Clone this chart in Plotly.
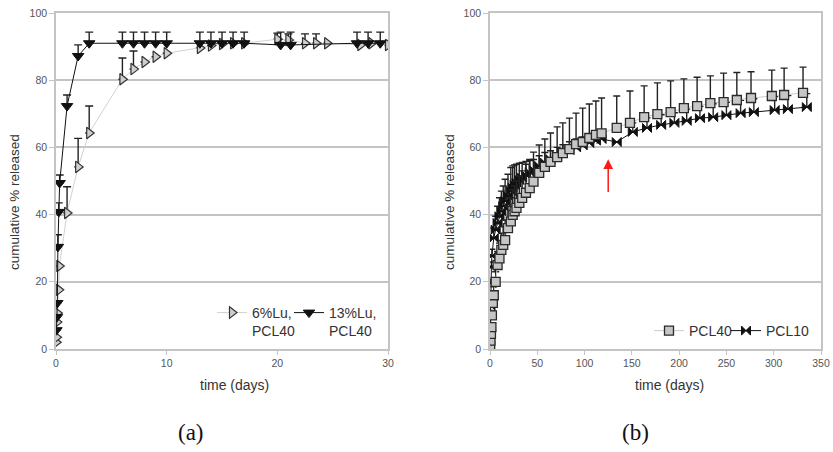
import plotly.graph_objects as go

# ---------- panel (a) ----------
t_a6 = [0.02, 0.05, 0.08, 0.12, 0.25, 0.3, 1, 2, 3, 6, 7, 8, 9, 10, 13, 14, 15, 16, 17, 20, 21, 22.5, 23.5, 24.5, 27.5, 28.5, 30]
v_a6 = [2, 3.5, 8, 10.7, 17.6, 24.7, 40.5, 54.2, 64.3, 80.3, 83.3, 85.4, 87, 88, 89.6, 90.3, 90.8, 91, 91, 92.2, 92, 91, 91, 91, 90.5, 91, 90.5]
e_a6 = [0, 0, 0, 0, 0, 0, 7.8, 8.5, 8, 6.3, 5.4, 0, 0, 0, 0, 0, 0, 0, 0, 1.8, 1.8, 2.8, 2.8, 0, 0, 0, 0]

t_a13 = [0.04, 0.08, 0.12, 0.17, 0.25, 0.33, 1, 2, 3, 6, 7, 8, 9, 10, 13, 14, 15, 16, 17, 20.3, 21.2, 27.2, 28.2, 29.3]
v_a13 = [5.6, 9.5, 13.7, 30.4, 40.8, 49.4, 72.3, 87.2, 91, 91, 91, 91, 91, 91, 91, 91, 91, 91, 91, 90.5, 90.5, 91, 91, 91]
e_a13 = [0, 0, 0, 3.6, 2.7, 2.4, 3.3, 3.3, 3.3, 3.3, 3.3, 3.3, 3.3, 3.3, 3.3, 3.3, 3.3, 3.3, 3.3, 3.8, 3.8, 3.3, 3.3, 3.3]

# ---------- panel (b) ----------
t_b40 = [0.2, 0.5, 1, 1.5, 2, 3, 4, 6, 8, 10, 12, 14, 16, 19, 22, 24, 26, 28, 31, 34, 38, 42, 46, 52, 58, 64, 71, 77, 84, 91, 98, 105, 112, 118, 134, 148, 163, 177, 191, 205, 219, 233, 247, 261, 276, 298, 311, 331]
v_b40 = [1, 2.5, 4.5, 6.5, 10, 13.7, 16, 20, 25, 27, 29.5, 31, 32.4, 36, 38, 39.9, 41, 42, 43.5, 45, 46.5, 47.9, 49.8, 52.4, 54.2, 55.7, 57.1, 58.3, 59.5, 61, 61.6, 62.8, 63.7, 64.2, 65.8, 67.3, 69, 69.9, 70.5, 71.7, 72.3, 73.2, 73.5, 74.1, 74.7, 75.3, 75.6, 76.2]
e_b40 = [0.5, 0.8, 1, 1.2, 1.5, 2, 2.5, 3, 4, 4.5, 5, 5.5, 6, 6.5, 7, 7.5, 7.5, 8, 8, 8, 8.5, 8.5, 8.8, 8.3, 8.3, 8.6, 9, 9, 9.2, 9.2, 10.1, 10.1, 10.1, 10.5, 9.5, 9.5, 9.3, 9.3, 9.3, 8.7, 8.6, 8.1, 8.6, 8.2, 7.8, 7.7, 8, 7.7]

t_b10 = [0.2, 0.5, 1, 1.5, 2, 4, 6, 8, 10, 12, 14, 16, 19, 22, 24, 26, 28, 31, 34, 38, 42, 46, 52, 58, 64, 71, 77, 84, 91, 98, 105, 112, 118, 134, 151, 166, 181, 195, 208, 222, 236, 250, 265, 279, 301, 315, 335]
v_b10 = [5, 13, 19.6, 24.4, 27.7, 33, 35.5, 37.5, 39.5, 41, 42.5, 44, 45.5, 47, 48, 48.8, 49.5, 50.3, 51, 51.8, 52.6, 53.4, 54.5, 55.5, 56.5, 57.5, 58.3, 59.2, 60, 60.6, 61.3, 62, 62.5, 61.6, 64.6, 65.8, 66.7, 67.3, 67.9, 68.7, 69, 69.6, 70.2, 70.5, 71.1, 71.4, 72]
e_b10 = [0, 0, 1, 1.5, 2, 3, 4, 5, 5.5, 6, 6, 6.5, 6.5, 7, 6.5, 6, 5.5, 5, 4.5, 4, 3.5, 3, 3, 3, 2.5, 2.5, 2.5, 2.5, 2.5, 2.5, 2.5, 2.5, 2.5, 0, 2.7, 3, 3, 3, 3.5, 3.5, 4, 3.8, 3.8, 4, 4, 4, 4]

FONT = "Liberation Sans, Arial, sans-serif"
GRID = "#c4c4c4"
W, H = 833, 452

def px(x):
    return x / W

def py(y):
    return 1 - y / H

def err(a, w):
    return dict(type="data", array=a, arrayminus=[0] * len(a), symmetric=False,
                color="#222222", thickness=1.4, width=w)

fig = go.Figure()

fig.add_trace(go.Scatter(
    x=t_a6, y=v_a6, mode="lines+markers", name="6%Lu,<br>PCL40", legendrank=1,
    line=dict(color="#d2d2d2", width=1),
    marker=dict(symbol="triangle-right", size=10, color="#cfcfcf", line=dict(color="#333333", width=1.2)),
    error_y=err(e_a6, 4), xaxis="x", yaxis="y", legend="legend"))
fig.add_trace(go.Scatter(
    x=t_a13, y=v_a13, mode="lines+markers", name="13%Lu,<br>PCL40", legendrank=2,
    line=dict(color="#111111", width=1),
    marker=dict(symbol="triangle-down", size=10, color="#111111", line=dict(color="#111111", width=1)),
    error_y=err(e_a13, 4), xaxis="x", yaxis="y", legend="legend"))

fig.add_trace(go.Scatter(
    x=t_b10, y=v_b10, mode="lines+markers", name="PCL10", legendrank=2,
    line=dict(color="#111111", width=1),
    marker=dict(symbol="bowtie", size=9, color="#111111", line=dict(color="#111111", width=1)),
    error_y=err(e_b10, 3.5), xaxis="x2", yaxis="y2", legend="legend2"))
fig.add_trace(go.Scatter(
    x=t_b40, y=v_b40, mode="lines+markers", name="PCL40", legendrank=1,
    line=dict(color="#cccccc", width=1),
    marker=dict(symbol="square", size=9, color="#c6c6c6", line=dict(color="#2a2a2a", width=1.3)),
    error_y=err(e_b40, 3.5), xaxis="x2", yaxis="y2", legend="legend2"))

# empty spacer entries so the last legend item is not clipped
for lg, ax, ay in [("legend", "x", "y"), ("legend2", "x2", "y2")]:
    fig.add_trace(go.Scatter(x=[None], y=[None], mode="lines", name=" ", legendrank=3,
                             line=dict(color="rgba(0,0,0,0)", width=0), hoverinfo="skip",
                             xaxis=ax, yaxis=ay, legend=lg))

TICKFONT = dict(family=FONT, size=10.5, color="#555555")

def xax(dom, rng, dt):
    return dict(domain=dom, range=rng, dtick=dt, tick0=0, showgrid=False, zeroline=False,
                showline=True, linecolor=GRID, linewidth=1.5, mirror=True,
                ticks="outside", ticklen=4, tickcolor=GRID,
                tickfont=TICKFONT, automargin=False)

def yax(dom, anchor):
    return dict(domain=dom, range=[0, 100], dtick=20, showgrid=True, gridcolor=GRID, gridwidth=1.5,
                zeroline=False, showline=True, linecolor=GRID, linewidth=1.5, mirror=True,
                ticks="outside", ticklen=5, tickcolor=GRID, anchor=anchor,
                tickfont=TICKFONT, automargin=False)

ydom = [py(349), py(13)]
fig.update_layout(
    width=W, height=H, margin=dict(l=0, r=0, t=0, b=0, pad=0, autoexpand=False),
    paper_bgcolor="white", plot_bgcolor="white",
    xaxis=dict(xax([px(56), px(388)], [0, 30], 10), anchor="y"),
    yaxis=yax(ydom, "x"),
    xaxis2=dict(xax([px(490), px(821)], [0, 350], 50), anchor="y2"),
    yaxis2=yax(ydom, "x2"),
    legend=dict(orientation="h", x=px(212), xanchor="left", y=py(297), yanchor="top",
                bgcolor="rgba(0,0,0,0)", font=dict(family=FONT, size=14, color="#333333"),
                valign="top", itemwidth=30, entrywidth=32, entrywidthmode="pixels", traceorder="normal"),
    legend2=dict(orientation="h", x=px(649), xanchor="left", y=py(315), yanchor="top",
                 bgcolor="rgba(0,0,0,0)", font=dict(family=FONT, size=14, color="#333333"),
                 itemwidth=30, entrywidth=32, entrywidthmode="pixels", traceorder="normal"),
    showlegend=True,
)

ann = []
for xc, yc in [(15, 202), (450, 202)]:
    ann.append(dict(text="cumulative % released", x=px(xc), y=py(yc), xref="paper", yref="paper",
                    xanchor="center", yanchor="middle",
                    textangle=-90, showarrow=False, font=dict(family=FONT, size=13.5, color="#333333")))
for xc in [234, 669]:
    ann.append(dict(text="time (days)", x=px(xc), y=py(385), xref="paper", yref="paper",
                    xanchor="center", yanchor="middle",
                    showarrow=False, font=dict(family=FONT, size=14, color="#333333")))
for txt, xc in [("(a)", 191), ("(b)", 635)]:
    ann.append(dict(text=txt, x=px(xc), y=py(432), xref="paper", yref="paper",
                    xanchor="center", yanchor="middle",
                    showarrow=False, font=dict(family="Liberation Serif, DejaVu Serif, serif", size=23, color="#111111")))
ann.append(dict(text="", x=125, y=56.5, xref="x2", yref="y2", ax=125, ay=46.3, axref="x2", ayref="y2",
                showarrow=True, arrowhead=2, arrowsize=1.3, arrowwidth=1.5, arrowcolor="#ff1a1a"))
fig.update_layout(annotations=ann)

fig.write_html("out.html", post_script="document.body.style.margin='0';",
               config={"displayModeBar": False})
